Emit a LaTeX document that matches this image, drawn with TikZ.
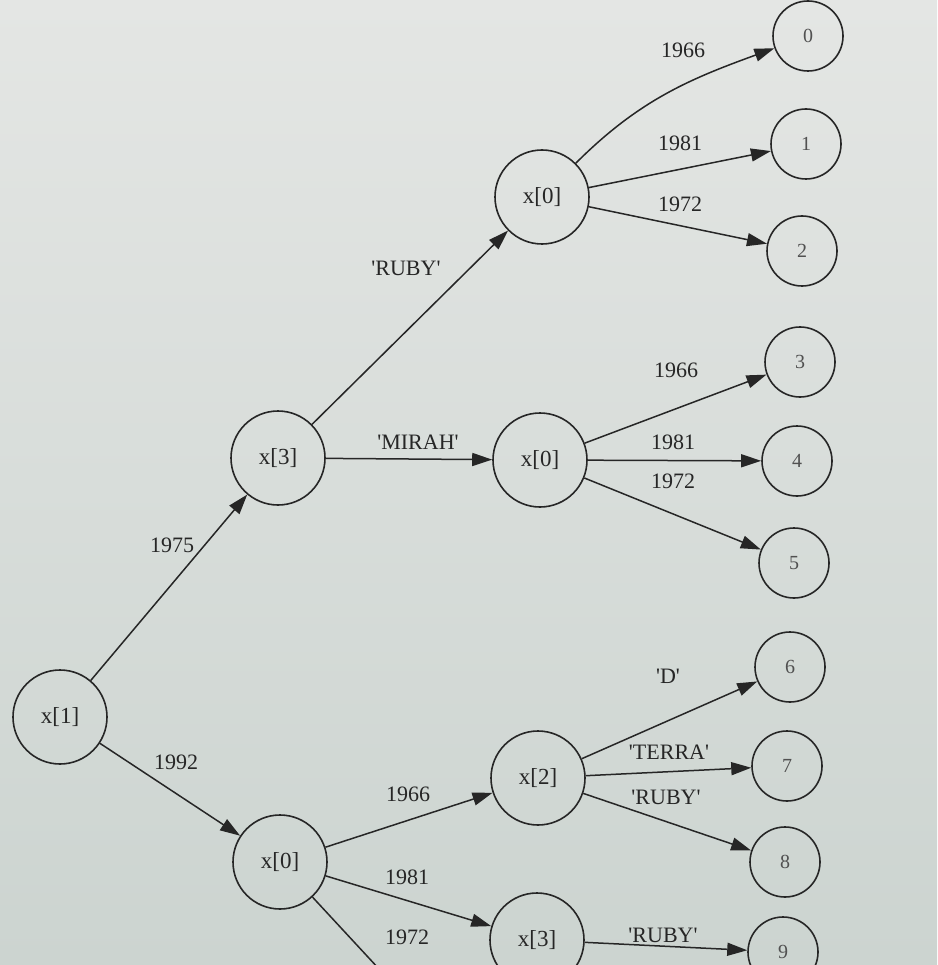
\documentclass[tikz,border=0pt]{standalone}
\usepackage{fontspec}
\setmainfont{Liberation Serif}
\usetikzlibrary{arrows.meta}
\definecolor{bgtop}{RGB}{228,230,228}
\definecolor{bgbot}{RGB}{204,212,208}
\definecolor{inkc}{RGB}{38,38,38}
\newcommand{\q}{\textquotesingle}
\tikzset{
  vnode/.style={circle,draw=inkc,line width=1.6pt,minimum size=94pt,inner sep=0pt,font=\fontsize{23}{25}\selectfont,text=inkc},
  leaf/.style={circle,draw=inkc,line width=1.6pt,minimum size=70pt,inner sep=0pt,font=\fontsize{20}{22}\selectfont,text=inkc!80},
  elabel/.style={font=\fontsize{22}{24}\selectfont,text=inkc,inner sep=0pt},
  edge/.style={draw=inkc,line width=1.5pt,-{Triangle[length=20pt,width=13pt]}},
}
\begin{document}
\begin{tikzpicture}[x=1pt,y=-1pt]
\useasboundingbox (0,0) rectangle (937,965);
\clip (0,0) rectangle (937,965);
\shade[top color=bgtop,bottom color=bgbot] (0,0) rectangle (937,965);
% internal nodes
\node[vnode] (r) at (60,717) {x[1]};
\node[vnode] (a) at (278,458) {x[3]};
\node[vnode] (b) at (280,862) {x[0]};
\node[vnode] (c) at (542,197) {x[0]};
\node[vnode] (d) at (540,460) {x[0]};
\node[vnode] (e) at (538,778) {x[2]};
\node[vnode] (f) at (537,940) {x[3]};
\coordinate (g) at (380,970);
% leaves
\node[leaf] (n0) at (808,36) {0};
\node[leaf] (n1) at (806,144) {1};
\node[leaf] (n2) at (802,251) {2};
\node[leaf] (n3) at (800,362) {3};
\node[leaf] (n4) at (797,461) {4};
\node[leaf] (n5) at (794,563) {5};
\node[leaf] (n6) at (790,667) {6};
\node[leaf] (n7) at (787,766) {7};
\node[leaf] (n8) at (785,862) {8};
\node[leaf] (n9) at (783,952) {9};
% edges
\draw[edge] (r) -- (a);
\draw[edge] (r) -- (b);
\draw[edge] (a) -- (c);
\draw[edge] (a) -- (d);
\draw[edge] (c) to[out=45,in=200] (n0);
\draw[edge] (c) -- (n1);
\draw[edge] (c) -- (n2);
\draw[edge] (d) -- (n3);
\draw[edge] (d) -- (n4);
\draw[edge] (d) -- (n5);
\draw[edge] (b) -- (e);
\draw[edge] (b) -- (f);
\draw[draw=inkc,line width=1.5pt] (b) -- (g);
\draw[edge] (e) -- (n6);
\draw[edge] (e) -- (n7);
\draw[edge] (e) -- (n8);
\draw[edge] (f) -- (n9);
% labels
\node[elabel] (l1) at (172,545) {1975};
\node[elabel] (l2) at (176,762) {1992};
\node[elabel] (l3) at (406,268) {\q RUBY\q};
\node[elabel] (l4) at (418,442) {\q MIRAH\q};
\node[elabel] (l5) at (683,50) {1966};
\node[elabel] (l6) at (680,143) {1981};
\node[elabel] (l7) at (680,204) {1972};
\node[elabel] (l8) at (676,370) {1966};
\node[elabel] (l9) at (673,442) {1981};
\node[elabel] (l10) at (673,481) {1972};
\node[elabel] (l11) at (668,676) {\q D\q};
\node[elabel] (l12) at (669,752) {\q TERRA\q};
\node[elabel] (l13) at (666,797) {\q RUBY\q};
\node[elabel] (l14) at (408,794) {1966};
\node[elabel] (l15) at (407,877) {1981};
\node[elabel] (l16) at (407,937) {1972};
\node[elabel] (l17) at (663,935) {\q RUBY\q};
\end{tikzpicture}
\end{document}
